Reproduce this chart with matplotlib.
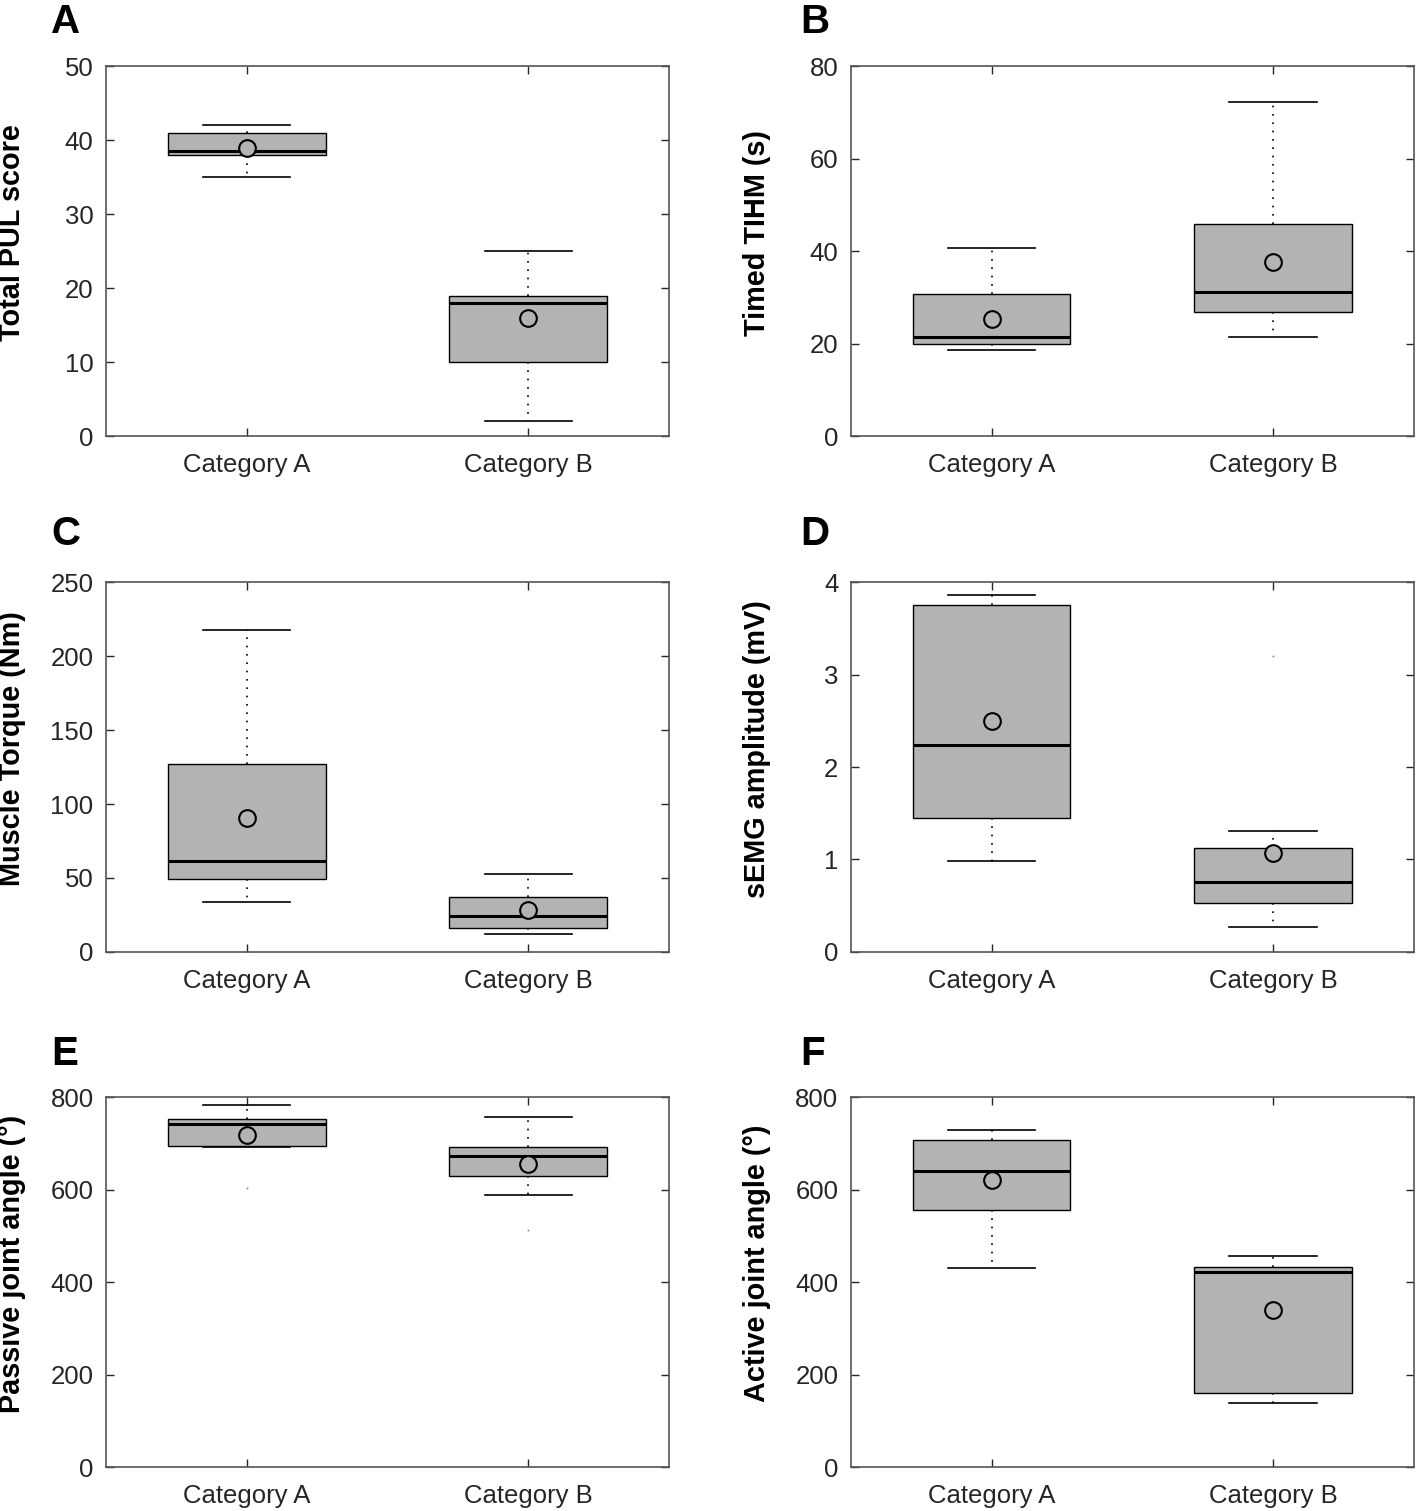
import numpy as np
import matplotlib
matplotlib.use('Agg')
import matplotlib.pyplot as plt

plt.rcParams['font.family'] = ['Liberation Sans', 'DejaVu Sans']

## Data (per panel: Category A, Category B)
categories = ['Category A', 'Category B']
panel_letters = ['A', 'B', 'C', 'D', 'E', 'F']
y_labels = ['Total PUL score', 'Timed TIHM (s)', 'Muscle Torque (Nm)',
            'sEMG amplitude (mV)', 'Passive joint angle (°)', 'Active joint angle (°)']
y_limits = [(0, 50), (0, 80), (0, 250), (0, 4), (0, 800), (0, 800)]
y_steps = [10, 20, 50, 1, 200, 200]

whis_low = [[35, 2], [18.7, 21.5], [33.5, 12.2], [0.98, 0.27], [693, 588], [431, 139]]
q1 = [[38, 10], [20, 26.8], [49.1, 16.1], [1.45, 0.525], [694, 629], [556, 160]]
median = [[38.5, 18], [21.5, 31.1], [61.5, 24.3], [2.24, 0.753], [743, 673], [641, 422]]
q3 = [[41, 19], [30.7, 45.8], [127.2, 37.3], [3.75, 1.12], [754, 692], [708, 432]]
whis_high = [[42, 25], [40.6, 72.3], [217.4, 52.6], [3.86, 1.31], [783, 757], [729, 457]]
means = [[39, 16], [25.4, 37.6], [90.8, 28.3], [2.5, 1.07], [719, 655], [621, 339]]
outliers = [[[], []], [[], []], [[], []], [[], [3.2]], [[603], [512]], [[], []]]

## Layout (figure fractions)
fig = plt.figure(figsize=(14.18, 15.11), dpi=100)
col_left = [0.0748, 0.600]
row_bottom = [0.7114, 0.370, 0.0291]
ax_w, ax_h = 0.397, 0.2447
letter_x = [0.036, 0.564]
letter_y = [0.978, 0.639, 0.295]

tick_color = '#262626'
box_gray = '#b3b3b3'

for k in range(6):
    r, c = divmod(k, 2)
    ax = fig.add_axes([col_left[c], row_bottom[r], ax_w, ax_h])

    stats = []
    for j in range(2):
        stats.append(dict(med=median[k][j], q1=q1[k][j], q3=q3[k][j],
                          whislo=whis_low[k][j], whishi=whis_high[k][j],
                          mean=means[k][j], fliers=np.array(outliers[k][j])))

    ax.bxp(stats, positions=[1, 2], widths=0.56, capwidths=0.31,
           patch_artist=True, showmeans=True, showfliers=True,
           boxprops=dict(facecolor=box_gray, edgecolor='black', linewidth=1.0),
           medianprops=dict(color='black', linewidth=2.2),
           whiskerprops=dict(color='black', linestyle=(0, (1, 4)), linewidth=1.2),
           capprops=dict(color='black', linewidth=1.2),
           meanprops=dict(marker='o', markerfacecolor=box_gray,
                          markeredgecolor='black', markersize=12, markeredgewidth=1.5),
           flierprops=dict(marker='.', markerfacecolor='#999999',
                           markeredgecolor='none', markersize=3))

    ax.set_xlim(0.5, 2.5)
    ax.set_ylim(*y_limits[k])
    ax.set_yticks(np.arange(y_limits[k][0], y_limits[k][1] + y_steps[k] / 2, y_steps[k]))
    ax.set_xticks([1, 2])
    ax.set_xticklabels(categories)
    ax.tick_params(direction='in', top=True, right=True, length=6, width=1,
                   colors=tick_color, labelsize=18.5)
    ax.tick_params(axis='y', pad=9)
    ax.tick_params(axis='x', pad=12)
    for sp in ax.spines.values():
        sp.set_color('#555555')
        sp.set_linewidth(1.2)

    ax.set_ylabel(y_labels[k], fontsize=20.8, fontweight='bold', color='black')
    ax.yaxis.set_label_coords(-0.142, 0.55)

    fig.text(letter_x[c], letter_y[r], panel_letters[k], fontsize=29,
             fontweight='bold', va='baseline', ha='left')

fig.savefig('out.png', dpi=100)
